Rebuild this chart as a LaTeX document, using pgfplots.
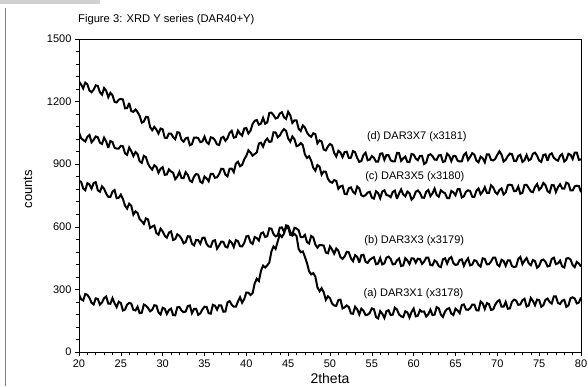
\documentclass[border=0pt]{standalone}
\usepackage{pgfplots}
\usepackage{pgfplotstable}
\pgfplotsset{compat=1.18}
\usepackage{fontspec}
\setmainfont{Liberation Sans}
\pgfplotstableread{
x a b c d
20.0 276 820 1052 1296
20.25 253 816 1025 1282
20.5 247 784 1016 1263
20.75 278 775 1009 1291
21.0 274 809 1031 1283
21.25 259 803 1040 1253
21.5 236 783 1005 1245
21.75 228 810 1017 1257
22.0 257 814 1033 1278
22.25 254 775 1029 1275
22.5 227 768 1003 1245
22.75 237 794 997 1233
23.0 258 782 1027 1265
23.25 266 759 1009 1252
23.5 232 744 978 1221
23.75 231 743 1011 1242
24.0 258 768 1006 1231
24.25 234 776 979 1199
24.5 215 737 975 1196
24.75 241 739 975 1209
25.0 235 754 988 1213
25.25 199 733 986 1210
25.5 203 701 952 1168
25.75 227 687 945 1169
26.0 235 711 980 1193
26.25 232 701 963 1154
26.5 202 658 939 1151
26.75 199 674 958 1162
27.0 217 666 948 1150
27.25 186 637 914 1132
27.5 188 627 906 1099
27.75 227 614 940 1104
28.0 222 640 934 1127
28.25 211 635 902 1125
28.5 195 594 885 1078
28.75 202 601 874 1063
29.0 224 606 895 1079
29.25 222 570 887 1066
29.5 190 562 859 1047
29.75 180 591 878 1071
30.0 212 578 886 1067
30.25 207 557 849 1027
30.5 182 548 851 1026
30.75 201 572 875 1047
31.0 208 578 865 1047
31.25 177 537 859 1030
31.5 176 541 828 1020
31.75 214 564 840 1053
32.0 216 557 863 1051
32.25 199 543 834 1017
32.5 191 521 833 1008
32.75 194 527 862 1024
33.0 220 555 849 1027
33.25 223 554 822 991
33.5 186 519 815 996
33.75 206 511 841 1027
34.0 207 537 853 1028
34.25 178 536 850 1025
34.5 185 519 816 1006
34.75 204 547 810 1009
35.0 217 548 841 1032
35.25 216 518 832 1006
35.5 186 506 818 997
35.75 184 504 854 1029
36.0 226 532 854 1026
36.25 222 536 835 1015
36.5 203 495 837 995
36.75 224 510 853 992
37.0 223 529 878 1026
37.25 193 528 877 1031
37.5 194 505 850 1012
37.75 238 501 842 1025
38.0 244 533 878 1050
38.25 227 524 879 1060
38.5 217 503 862 1027
38.75 217 536 903 1030
39.0 242 531 912 1061
39.25 262 507 890 1046
39.5 236 506 897 1037
39.75 254 523 923 1071
40.0 285 554 940 1073
40.25 284 556 967 1047
40.5 273 526 956 1061
40.75 282 518 941 1093
41.0 329 551 949 1108
41.25 351 546 956 1112
41.5 340 534 999 1089
41.75 389 568 1003 1095
42.0 414 573 984 1122
42.25 405 551 1011 1094
42.5 415 555 1023 1100
42.75 429 593 1007 1146
43.0 482 591 1009 1147
43.25 506 565 1053 1135
43.5 494 554 1052 1119
43.75 530 559 1029 1123
44.0 563 596 1037 1143
44.25 551 597 1056 1149
44.5 567 577 1068 1125
44.75 607 593 1060 1117
45.0 604 598 1023 1151
45.25 575 561 1008 1135
45.5 558 564 1033 1098
45.75 566 595 1020 1110
46.0 556 592 986 1110
46.25 494 584 990 1070
46.5 478 551 1001 1059
46.75 482 550 991 1086
47.0 456 561 947 1076
47.25 426 527 930 1052
47.5 387 520 938 1038
47.75 372 556 917 1031
48.0 378 549 883 1048
48.25 361 515 869 1044
48.5 310 500 896 1000
48.75 291 513 888 1014
49.0 306 512 850 1009
49.25 286 510 865 970
49.5 250 477 864 966
49.75 267 473 830 985
50.0 258 506 816 997
50.25 232 491 811 990
50.5 223 471 824 954
50.75 221 496 820 937
51.0 249 485 782 964
51.25 251 455 794 956
51.5 209 446 797 934
51.75 214 458 758 958
52.0 223 480 756 960
52.25 215 478 785 930
52.5 185 449 789 931
52.75 183 435 768 963
53.0 217 464 759 957
53.25 205 456 793 930
53.5 180 429 784 911
53.75 208 464 751 915
54.0 198 466 746 944
54.25 177 432 752 955
54.5 179 427 764 919
54.75 187 442 768 922
55.0 209 449 740 939
55.25 205 454 735 931
55.5 168 421 770 912
55.75 161 424 762 912
56.0 196 450 737 950
56.25 183 420 769 952
56.5 163 425 775 921
56.75 196 452 752 944
57.0 200 457 750 943
57.25 177 446 742 919
57.5 179 420 767 914
57.75 212 421 773 914
58.0 204 439 734 954
58.25 180 448 759 953
58.5 171 412 779 916
58.75 167 415 755 928
59.0 195 450 746 937
59.25 190 439 769 910
59.5 165 421 761 910
59.75 192 449 730 949
60.0 208 448 741 946
60.25 171 428 768 927
60.5 174 447 774 919
60.75 201 445 763 939
61.0 193 422 740 940
61.25 194 433 739 901
61.5 170 452 768 908
61.75 181 452 776 943
62.0 203 417 747 948
62.25 177 415 760 939
62.5 179 439 783 922
62.75 215 431 752 921
63.0 209 411 744 942
63.25 179 407 775 944
63.5 168 444 766 911
63.75 194 449 761 914
64.0 206 424 738 951
64.25 210 448 737 941
64.5 184 455 772 915
64.75 177 426 765 940
65.0 208 417 751 939
65.25 199 420 780 917
65.5 186 441 780 913
65.75 225 444 741 914
66.0 228 413 746 944
66.25 204 435 768 954
66.5 202 449 775 920
66.75 210 415 771 935
67.0 227 419 744 953
67.25 227 440 743 946
67.5 200 436 773 917
67.75 199 417 784 909
68.0 242 409 756 936
68.25 233 449 769 929
68.5 206 446 790 909
68.75 234 420 763 947
69.0 229 421 762 947
69.25 202 434 799 921
69.5 204 452 789 918
69.75 227 452 766 925
70.0 242 419 757 945
70.25 249 411 776 962
70.5 217 442 784 946
70.75 217 436 755 913
71.0 240 413 764 921
71.25 207 439 799 939
71.5 209 439 802 951
71.75 241 412 799 948
72.0 251 407 771 916
72.25 246 410 772 915
72.5 226 446 793 939
72.75 228 456 758 945
73.0 248 421 763 911
73.25 255 438 800 920
73.5 218 450 801 944
73.75 223 425 786 918
74.0 259 416 769 924
74.25 245 441 766 950
74.5 224 436 791 955
74.75 251 404 805 941
75.0 249 413 777 917
75.25 217 438 788 911
75.5 224 443 810 944
75.75 250 433 800 947
76.0 256 410 771 916
76.25 240 413 763 946
76.5 232 446 800 952
76.75 266 452 799 931
77.0 266 421 767 922
77.25 235 425 790 917
77.5 230 438 804 940
77.75 246 410 783 948
78.0 250 405 783 913
78.25 216 448 812 922
78.5 223 450 807 950
78.75 258 443 774 945
79.0 262 417 774 925
79.25 256 407 794 956
79.5 233 432 797 956
79.75 237 424 795 921
80.0 261 409 766 923
}\xrd
\begin{document}
\begin{tikzpicture}
\path[use as bounding box] (-79pt,-34pt) rectangle (509pt,352pt);
\fill[black!18] (-79pt,348pt) rectangle (21pt,352pt);
\draw[black!50, line width=0.8pt] (-74pt,344pt) -- (-74pt,-34pt);
\node[anchor=west, font=\fontsize{11.2}{13}\selectfont, inner sep=0pt] at (-1pt,332pt) {Figure 3: XRD Y series (DAR40+Y)};
\begin{axis}[
  scale only axis,
  width=502pt, height=313pt,
  at={(0pt,0pt)}, anchor=south west,
  xmin=20, xmax=80, ymin=0, ymax=1500,
  xtick={20,25,...,80},
  ytick={0,300,...,1500},
  minor x tick num=4,
  minor y tick num=4,
  tick align=outside,
  xtick pos=bottom, ytick pos=left,
  major tick length=4pt, minor tick length=3pt,
  axis line style={line width=0.7pt},
  every tick/.style={black, line width=0.6pt},
  /pgf/number format/assume math mode=true,
  /pgf/number format/set thousands separator={},
  ticklabel style={font=\fontsize{11}{12}\selectfont},
  xlabel={2theta}, ylabel={counts},
  every axis x label/.style={at={(axis description cs:0.5,0)}, yshift=-26pt, anchor=center, font=\fontsize{14}{16}\selectfont},
  every axis y label/.style={at={(axis description cs:0,0.52)}, xshift=-51pt, anchor=center, rotate=90, font=\fontsize{13}{16}\selectfont},
  clip=true,
]
\addplot[black, line width=2.0pt, line join=miter, miter limit=3] table[x=x, y=a] {\xrd};
\addplot[black, line width=2.0pt, line join=miter, miter limit=3] table[x=x, y=b] {\xrd};
\addplot[black, line width=2.0pt, line join=miter, miter limit=3] table[x=x, y=c] {\xrd};
\addplot[black, line width=2.0pt, line join=miter, miter limit=3] table[x=x, y=d] {\xrd};
\node[anchor=west, font=\fontsize{11}{12}\selectfont] at (axis cs:54.0,1030) {(d) DAR3X7 (x3181)};
\node[anchor=west, font=\fontsize{11}{12}\selectfont] at (axis cs:53.8,838) {(c) DAR3X5 (x3180)};
\node[anchor=west, font=\fontsize{11}{12}\selectfont] at (axis cs:53.7,532) {(b) DAR3X3 (x3179)};
\node[anchor=west, font=\fontsize{11}{12}\selectfont] at (axis cs:53.6,278) {(a) DAR3X1 (x3178)};
\end{axis}
\end{tikzpicture}
\end{document}
